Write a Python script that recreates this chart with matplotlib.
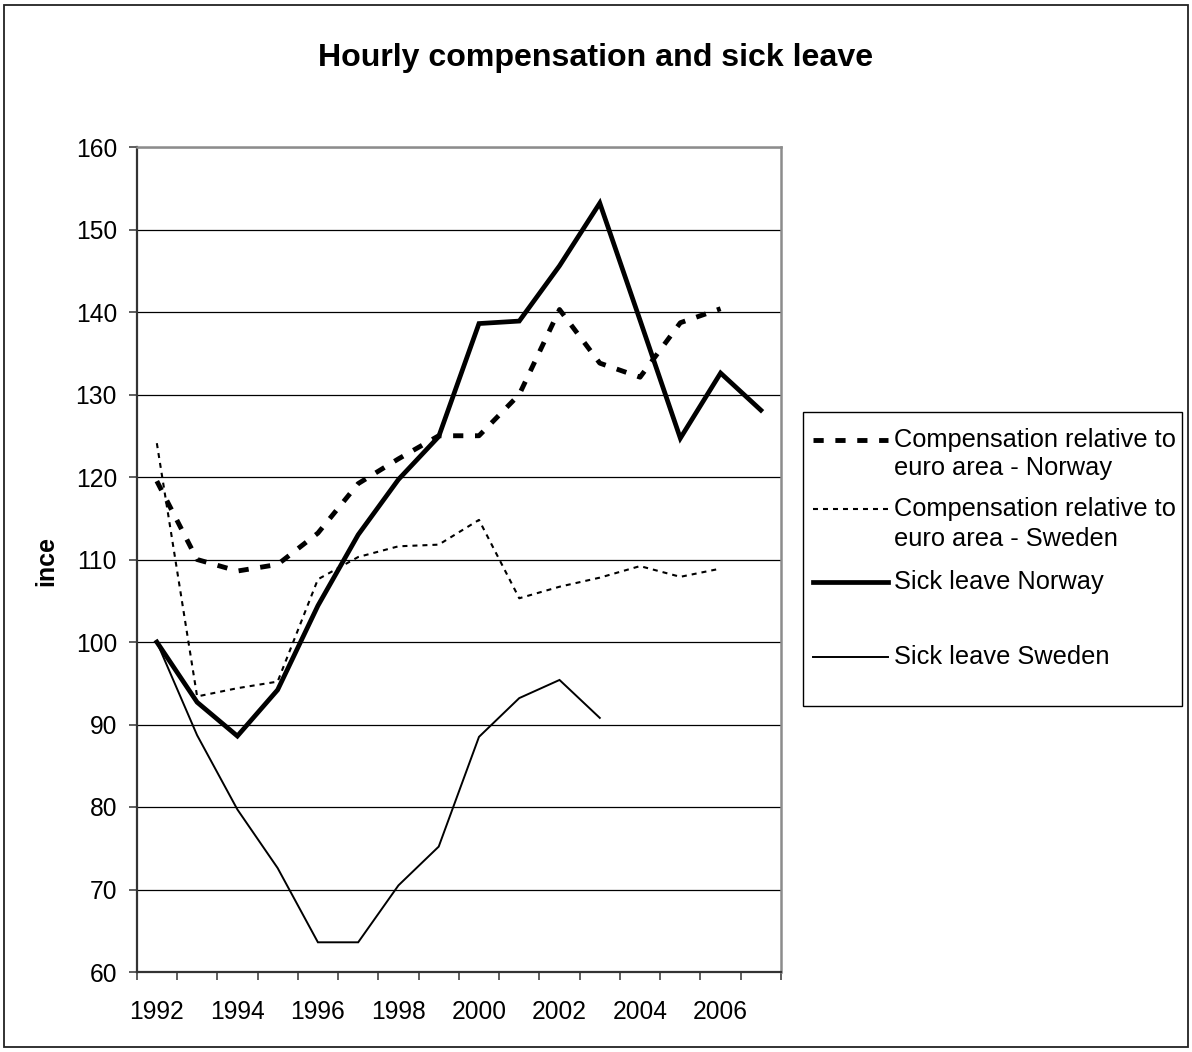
import numpy as np
import matplotlib
matplotlib.use("Agg")
import matplotlib.pyplot as plt
from matplotlib.patches import Rectangle
from matplotlib.lines import Line2D

plt.rcParams['font.family'] = ['Liberation Sans', 'DejaVu Sans']

# ---- data -------------------------------------------------------------
years = list(range(1992, 2008))
year_labels = [str(y) for y in years[::2]]

comp_norway = [119.5, 110.0, 108.6, 109.4, 113.2, 119.2, 122.2, 125.0,
               125.0, 130.0, 140.3, 133.8, 132.1, 138.7, 140.4, np.nan]
comp_sweden = [124.1, 93.4, 94.4, 95.2, 107.6, 110.3, 111.6, 111.8,
               114.8, 105.3, 106.7, 107.8, 109.2, 107.9, 108.9, np.nan]
sick_norway = [100.0, 92.7, 88.6, 94.2, 104.4, 113.0, 119.7, 124.9,
               138.6, 138.9, 145.6, 153.2, 139.0, 124.7, 132.6, 128.1]
sick_sweden = [100.0, 88.7, 79.7, 72.6, 63.6, 63.6, 70.5, 75.2,
               88.5, 93.2, 95.4, 90.8, np.nan, np.nan, np.nan, np.nan]

series_labels = [
    ["Compensation relative to", "euro area - Norway"],
    ["Compensation relative to", "euro area - Sweden"],
    ["Sick leave Norway"],
    ["Sick leave Sweden"],
]
title = "Hourly compensation and sick leave"
y_title = "ince"
y_ticks = list(range(60, 161, 10))

# ---- figure -----------------------------------------------------------
W, H = 1192, 1052
fig = plt.figure(figsize=(W / 100, H / 100), dpi=100)


def fx(px):
    return px / W


def fy(py):
    return 1 - py / H


ax = fig.add_axes([fx(136.7), fy(972), fx(781) - fx(136.7), fy(147) - fy(972)])

styles = [
    dict(color='black', lw=3.5, linestyle=(0, (2.1, 2.4)), dash_capstyle='butt'),
    dict(color='black', lw=1.5, linestyle=(0, (2.4, 2.4)), dash_capstyle='butt'),
    dict(color='black', lw=3.4, linestyle='-', solid_joinstyle='miter'),
    dict(color='black', lw=1.4, linestyle='-', solid_joinstyle='miter'),
]

x = np.array(years, dtype=float)
for vals, st in zip([comp_norway, comp_sweden, sick_norway, sick_sweden], styles):
    ax.plot(x, vals, zorder=3, **st)

ax.set_xlim(years[0] - 0.5, years[-1] + 0.5)
ax.set_ylim(y_ticks[0], y_ticks[-1])

# category boundaries carry the tick marks, labels sit on every second year
ax.set_xticks(np.arange(years[0] - 0.5, years[-1] + 1.0, 1.0))
ax.set_xticklabels([])
ax.set_xticks(years[::2], minor=True)
ax.set_xticklabels(year_labels, minor=True)
ax.tick_params(axis='x', which='major', direction='out', length=5.8,
               width=1.1, color='#333333')
ax.tick_params(axis='x', which='minor', length=0, pad=20, labelsize=17.7)

ax.set_yticks(y_ticks)
ax.tick_params(axis='y', direction='out', length=5.8, width=1.1,
               color='#333333', pad=8.4, labelsize=17.7)

ax.yaxis.grid(True, color='black', lw=0.9)
ax.set_axisbelow(True)

for side in ['left', 'bottom']:
    ax.spines[side].set_color('#333333')
    ax.spines[side].set_linewidth(1.6)
for side in ['top', 'right']:
    ax.spines[side].set_color('#8c8c8c')
    ax.spines[side].set_linewidth(1.8)
for sp in ax.spines.values():
    sp.set_zorder(4)

# titles
fig.text(0.5, fy(66), title, ha='center', va='baseline',
         fontsize=23.1, fontweight='bold')
fig.text(fx(46), fy(561), y_title, rotation=90, ha='center', va='center',
         fontsize=18, fontweight='bold')

# legend box drawn beside the plot area
fig.add_artist(Rectangle((fx(803), fy(706)), fx(1182) - fx(803), fy(412) - fy(706),
                         transform=fig.transFigure, fill=False,
                         edgecolor='black', lw=1.0))
row_y = [[440, 468], [509, 539], [582], [657]]
for lines, rows, st in zip(series_labels, row_y, styles):
    fig.add_artist(Line2D([fx(813), fx(888)], [fy(rows[0]), fy(rows[0])],
                          transform=fig.transFigure, **st))
    for txt, yy in zip(lines, rows):
        fig.text(fx(894), fy(yy), txt, ha='left', va='center', fontsize=18.3)

# outer chart frame
fig.add_artist(Rectangle((fx(3.5), fy(1047)), fx(1187.5) - fx(3.5), fy(5) - fy(1047),
                         transform=fig.transFigure, fill=False,
                         edgecolor='#222222', lw=1.3))

fig.savefig("out.png", dpi=100, facecolor='white')
